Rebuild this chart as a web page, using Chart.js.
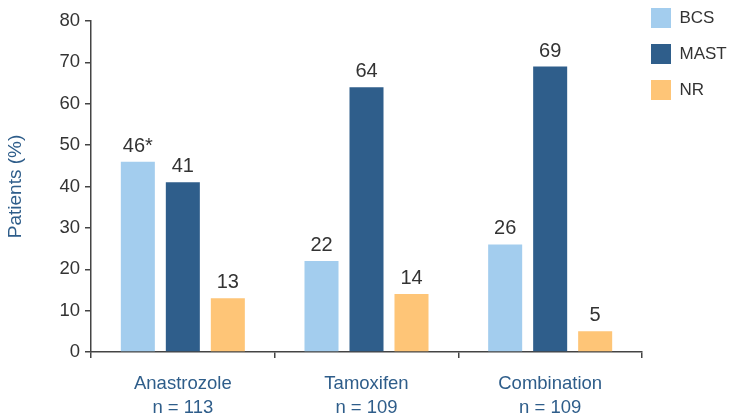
<!DOCTYPE html>
<html>
<head>
<meta charset="utf-8">
<title>Patients by surgery type</title>
<script src="https://cdn.jsdelivr.net/npm/chart.js@4.4.1/dist/chart.umd.min.js"></script>
<style>
  html, body { margin: 0; padding: 0; background: #fff; }
  #wrap { width: 731px; height: 419px; position: relative; }
</style>
</head>
<body>
<div id="wrap"><canvas id="chart"></canvas></div>
<script>
const categories = [["Anastrozole", "n = 113"], ["Tamoxifen", "n = 109"], ["Combination", "n = 109"]];
const bcs = [46, 22, 26];
const mast = [41, 64, 69];
const nr = [13, 14, 5];
// footnote marks shown after the value labels
const bcsMarks = ["*", "", ""];
const yTicks = [0, 10, 20, 30, 40, 50, 60, 70, 80];

const BLUE_TEXT = "#2e5d8a";
const AXIS = "#444";

Chart.defaults.font.family = "'Liberation Sans', Arial, sans-serif";
Chart.defaults.color = "#333";

// value labels above the bars
const valueLabels = {
  id: "valueLabels",
  afterDatasetsDraw(chart) {
    const ctx = chart.ctx;
    ctx.save();
    ctx.font = "20px 'Liberation Sans', Arial, sans-serif";
    ctx.fillStyle = "#333";
    ctx.textAlign = "center";
    ctx.textBaseline = "alphabetic";
    chart.data.datasets.forEach((ds, di) => {
      chart.getDatasetMeta(di).data.forEach((bar, i) => {
        const mark = ds.marks ? ds.marks[i] : "";
        ctx.fillText(ds.data[i] + mark, bar.x, bar.y - 10);
      });
    });
    ctx.restore();
  }
};

// keep the legend close to the plot, as in the original
const legendPlace = {
  id: "legendPlace",
  beforeInit(chart) {
    const fit = chart.legend.fit;
    chart.legend.fit = function () {
      fit.call(this);
      this.width = 89;
    };
  },
  afterLayout(chart) {
    chart.legend.left -= 7;
    chart.legend.top = -8;
  }
};

new Chart(document.getElementById("chart"), {
  type: "bar",
  data: {
    labels: categories,
    datasets: [
      { label: "BCS", data: bcs, marks: bcsMarks, backgroundColor: "#a3cdee" },
      { label: "MAST", data: mast, backgroundColor: "#2f5e8b" },
      { label: "NR", data: nr, backgroundColor: "#fec577" }
    ]
  },
  options: {
    responsive: true,
    maintainAspectRatio: false,
    animation: false,
    layout: { padding: { top: 21, left: 0, right: 0, bottom: 0 } },
    datasets: { bar: { categoryPercentage: 0.735, barPercentage: 0.756, borderWidth: 0 } },
    plugins: {
      tooltip: { enabled: false },
      legend: {
        position: "right",
        align: "start",
        labels: {
          boxWidth: 20,
          boxHeight: 20,
          padding: 16,
          color: "#333",
          font: { size: 17 }
        }
      }
    },
    scales: {
      x: {
        offset: true,
        grid: { offset: true, drawOnChartArea: false, tickLength: 6, color: AXIS, lineWidth: 1.5 },
        border: { color: AXIS, width: 1.5 },
        ticks: { color: BLUE_TEXT, padding: 14, font: { size: 18.5, lineHeight: 1.3 }, maxRotation: 0 },
        afterFit(scale) { scale.height = 67; }
      },
      y: {
        min: 0,
        max: 80,
        afterBuildTicks(scale) { scale.ticks = yTicks.map(v => ({ value: v })); },
        grid: { drawOnChartArea: false, tickLength: 6, color: AXIS, lineWidth: 1.5 },
        border: { color: AXIS, width: 1.5 },
        ticks: { color: "#333", padding: 5, font: { size: 18.5 } },
        title: {
          display: true,
          text: "Patients (%)",
          color: BLUE_TEXT,
          font: { size: 19 },
          padding: { top: 4, bottom: 4 }
        },
        afterFit(scale) { scale.width = 91; }
      }
    }
  },
  plugins: [valueLabels, legendPlace]
});
</script>
</body>
</html>
